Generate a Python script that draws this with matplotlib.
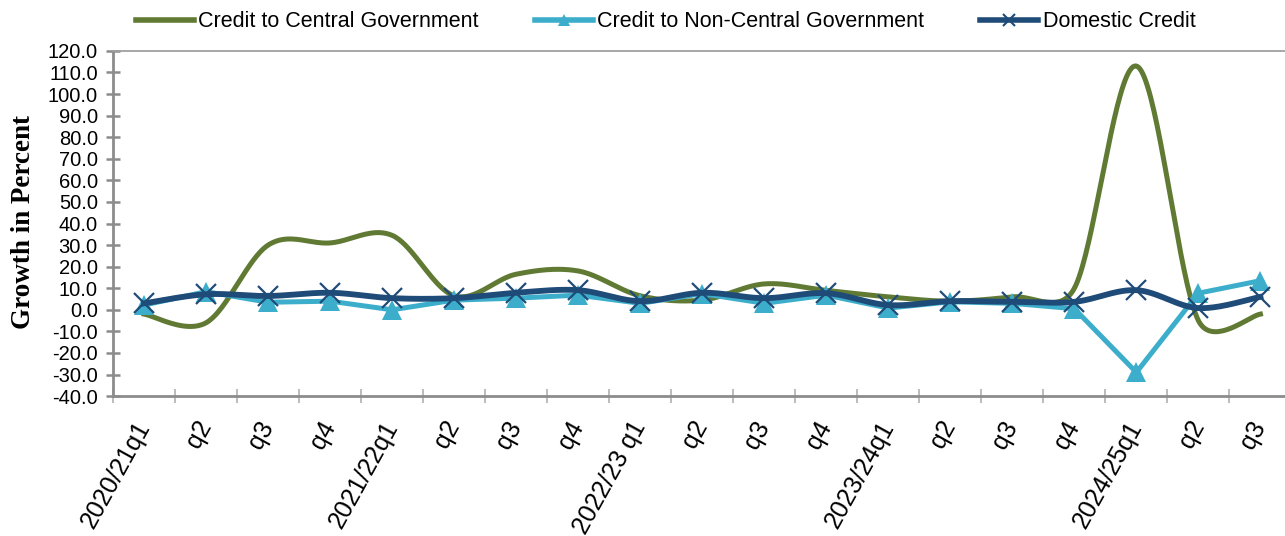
import matplotlib.pyplot as plt
from matplotlib.lines import Line2D
import numpy as np

# 数据（季度增长率，%）
quarters = ['2020/21q1', 'q2', 'q3', 'q4', '2021/22q1', 'q2', 'q3', 'q4',
            '2022/23 q1', 'q2', 'q3', 'q4', '2023/24q1', 'q2', 'q3', 'q4',
            '2024/25q1', 'q2', 'q3']
central_gov = [-2.0, -6.0, 30.0, 31.0, 34.5, 6.5, 16.5, 18.0, 6.5, 4.5,
               12.0, 9.0, 6.0, 4.0, 6.0, 10.0, 113.0, -5.0, -2.0]
non_central_gov = [2.2, 8.4, 3.5, 4.0, 0.0, 4.5, 5.4, 6.8, 3.0, 7.5,
                   3.0, 6.8, 0.8, 3.7, 3.0, 0.5, -29.0, 7.7, 13.5]
domestic_credit = [3.0, 7.2, 6.4, 7.9, 5.4, 5.4, 7.9, 9.1, 4.0, 7.9,
                   5.4, 7.7, 2.2, 4.0, 3.7, 3.7, 9.1, 0.8, 6.0]

green = '#607A34'
cyan = '#3CAECB'
navy = '#1F4B78'
grey = '#8C8C8C'

# 屏幕像素比例（每个类别 / 每 1%），用于平滑线计算
PX_X, PX_Y = 62.1, 2.156


def smooth(y, n=40):
    # Excel 平滑线：Bezier，控制点长度不超过半段
    p = np.column_stack([np.arange(len(y)) * PX_X, np.asarray(y, float) * PX_Y])
    p = np.vstack([p[0], p, p[-1]])
    t = np.linspace(0, 1, n)[:, None]
    out = []
    for i in range(1, len(p) - 2):
        p0, p1, p2, p3 = p[i - 1], p[i], p[i + 1], p[i + 2]
        d02 = np.linalg.norm(p2 - p0)
        d12 = np.linalg.norm(p2 - p1)
        d13 = np.linalg.norm(p3 - p1)
        f0 = 1 / 6 if d02 / 6 < d12 / 2 else d12 / d02 / 2
        f1 = 1 / 6 if d13 / 6 < d12 / 2 else d12 / d13 / 2
        c1 = p1 + f0 * (p2 - p0)
        c2 = p2 - f1 * (p3 - p1)
        b = (1 - t) ** 3 * p1 + 3 * (1 - t) ** 2 * t * c1 \
            + 3 * (1 - t) * t ** 2 * c2 + t ** 3 * p2
        out.append(b)
    b = np.vstack(out)
    return b[:, 0] / PX_X, b[:, 1] / PX_Y


plt.rcParams['font.family'] = ['Liberation Sans', 'DejaVu Sans']

fig = plt.figure(figsize=(12.85, 5.36), dpi=100)
ax = fig.add_axes([0.088, 0.261, 0.917, 0.644])

x = np.arange(len(quarters))

sx, sy = smooth(central_gov)
ax.plot(sx, sy, color=green, lw=3.6, zorder=2)

ax.plot(x, non_central_gov, color=cyan, lw=3.6, marker='^', markersize=15,
        markeredgewidth=0, zorder=3)

sx, sy = smooth(domestic_credit)
ax.plot(sx, sy, color=navy, lw=4.2, zorder=4)
ax.plot(x, domestic_credit, ls='none', marker='x', markersize=14,
        markeredgewidth=1.6, color=navy, zorder=5)

ax.set_xlim(-0.5, len(quarters) - 0.5)
ax.set_ylim(-40, 120)
ax.set_yticks(np.arange(-40, 121, 10))
ax.set_yticklabels([f'{v:.1f}' for v in np.arange(-40, 121, 10)])

ax.set_xticks(x)
ax.set_xticklabels(quarters, rotation=61, ha='right', va='center',
                   rotation_mode='anchor', fontsize=18)
ax.set_xticks(np.arange(-0.5, len(quarters), 1), minor=True)
ax.tick_params(axis='x', which='major', length=0, pad=19)
ax.tick_params(axis='x', which='minor', direction='inout', length=10,
               width=1.2, color='#B0B0B0')
ax.tick_params(axis='y', direction='inout', length=10, width=1.8,
               color=grey, labelsize=14.5, pad=6)

for side in ['left', 'bottom']:
    ax.spines[side].set_color(grey)
    ax.spines[side].set_linewidth(2)
ax.spines['top'].set_color('#A0A0A0')
ax.spines['top'].set_linewidth(1.3)
ax.spines['right'].set_visible(False)

fig.text(0.018, 0.586, 'Growth in Percent', rotation=90, ha='center',
         va='center', fontsize=19.5, fontweight='bold', family='Liberation Serif')

handles = [
    Line2D([], [], color=green, lw=4),
    Line2D([], [], color=cyan, lw=4, marker='^', markersize=8, markeredgewidth=0),
    Line2D([], [], color=navy, lw=4, marker='x', markersize=8, markeredgewidth=1.5),
]
labels = ['Credit to Central Government', 'Credit to Non-Central Government',
          'Domestic Credit']
fig.legend(handles, labels, loc='center', bbox_to_anchor=(0.518, 0.959),
           ncol=3, frameon=False, fontsize=15.5, handlelength=2.7,
           columnspacing=2.6, handletextpad=0.2)

plt.savefig('out.png', dpi=100)
